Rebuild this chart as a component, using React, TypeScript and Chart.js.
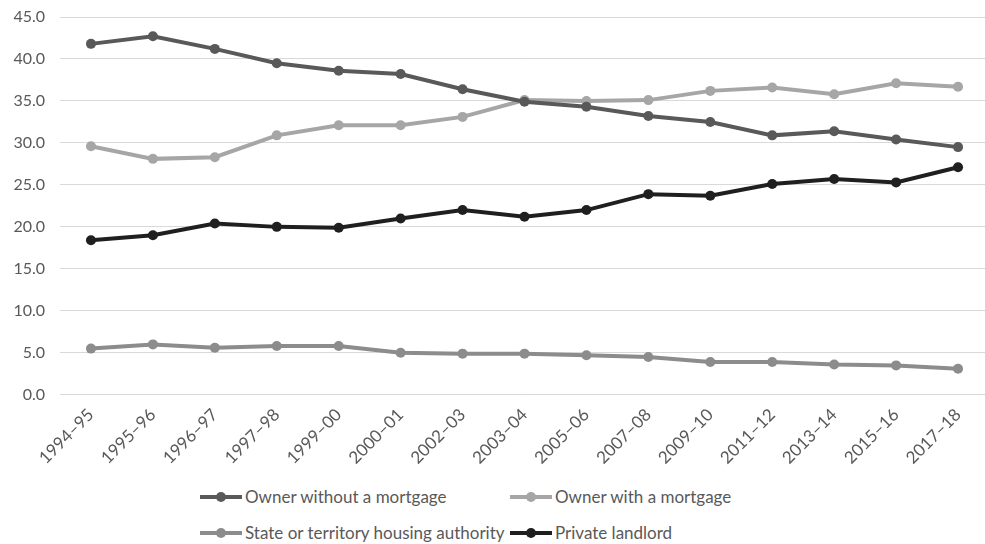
import React, { useEffect, useRef } from "react";
import { Chart, registerables } from "chart.js";

Chart.register(...registerables);

const categories = [
  "1994–95", "1995–96", "1996–97", "1997–98", "1999–00", "2000–01", "2002–03", "2003–04",
  "2005–06", "2007–08", "2009–10", "2011–12", "2013–14", "2015–16", "2017–18",
];
const ownerWithout = [41.8, 42.7, 41.2, 39.5, 38.6, 38.2, 36.4, 34.9, 34.3, 33.2, 32.5, 30.9, 31.4, 30.4, 29.5];
const ownerWith = [29.6, 28.1, 28.3, 30.9, 32.1, 32.1, 33.1, 35.1, 35.0, 35.1, 36.2, 36.6, 35.8, 37.1, 36.7];
const stateHousing = [5.5, 6.0, 5.6, 5.8, 5.8, 5.0, 4.9, 4.9, 4.7, 4.5, 3.9, 3.9, 3.6, 3.5, 3.1];
const privateLandlord = [18.4, 19.0, 20.4, 20.0, 19.9, 21.0, 22.0, 21.2, 22.0, 23.9, 23.7, 25.1, 25.7, 25.3, 27.1];
const yTicks = [0, 5, 10, 15, 20, 25, 30, 35, 40, 45];

const seriesNames = [
  "Owner without a mortgage",
  "Owner with a mortgage",
  "State or territory housing authority",
  "Private landlord",
];
const seriesColors = ["#595959", "#a6a6a6", "#8c8c8c", "#1f1f1f"];
const seriesValues = [ownerWithout, ownerWith, stateHousing, privateLandlord];

const FONT = "Lato, 'Open Sans', sans-serif";

function LegendItem({ name, color }: { name: string; color: string }) {
  return (
    <div style={{ display: "flex", alignItems: "center", whiteSpace: "nowrap" }}>
      <svg width={42} height={12} style={{ marginRight: 3 }}>
        <line x1={0} y1={6} x2={42} y2={6} stroke={color} strokeWidth={4} />
        <circle cx={21} cy={6} r={5} fill={color} />
      </svg>
      <span style={{ fontFamily: FONT, fontSize: 17, color: "#595959" }}>{name}</span>
    </div>
  );
}

export default function App() {
  const canvasRef = useRef<HTMLCanvasElement | null>(null);

  useEffect(() => {
    if (!canvasRef.current) return;
    const chart = new Chart(canvasRef.current, {
      type: "line",
      data: {
        labels: categories,
        datasets: seriesNames.map((name, i) => ({
          label: name,
          data: seriesValues[i],
          borderColor: seriesColors[i],
          backgroundColor: seriesColors[i],
          pointBackgroundColor: seriesColors[i],
          pointBorderColor: seriesColors[i],
          borderWidth: 4,
          pointRadius: 5,
          pointBorderWidth: 0,
          tension: 0,
          fill: false,
        })),
      },
      options: {
        responsive: false,
        animation: false,
        maintainAspectRatio: false,
        layout: { padding: { top: 17, right: 11, bottom: 0, left: 0 } },
        plugins: {
          legend: { display: false },
          tooltip: { enabled: false },
        },
        scales: {
          x: {
            offset: true,
            grid: { display: false },
            border: { display: false },
            ticks: {
              color: "#595959",
              font: { family: FONT, size: 17 },
              minRotation: 45,
              maxRotation: 45,
              autoSkip: false,
              padding: 2,
            },
          },
          y: {
            min: 0,
            max: 45,
            afterFit: (scale: any) => {
              scale.width = 60;
              scale.paddingTop = 0;
              scale.paddingBottom = 0;
            },
            afterBuildTicks: (scale: any) => {
              scale.ticks = yTicks.map((v) => ({ value: v }));
            },
            grid: { color: "#d9d9d9", lineWidth: 1, drawTicks: false },
            border: { display: false },
            ticks: {
              color: "#595959",
              font: { family: FONT, size: 16 },
              padding: 15,
              callback: (v: any) => Number(v).toFixed(1),
            },
          },
        },
      },
    });
    return () => chart.destroy();
  }, []);

  return (
    <div
      style={{
        position: "fixed",
        left: 0,
        top: 0,
        width: 985,
        height: 544,
        overflow: "hidden",
        background: "#ffffff",
      }}
    >
      <canvas ref={canvasRef} width={1000} height={470} style={{ width: 1000, height: 470, display: "block" }} />
      <div style={{ position: "absolute", left: 200, top: 486 }}>
        <LegendItem name={seriesNames[0]} color={seriesColors[0]} />
      </div>
      <div style={{ position: "absolute", left: 510, top: 486 }}>
        <LegendItem name={seriesNames[1]} color={seriesColors[1]} />
      </div>
      <div style={{ position: "absolute", left: 200, top: 522 }}>
        <LegendItem name={seriesNames[2]} color={seriesColors[2]} />
      </div>
      <div style={{ position: "absolute", left: 510, top: 522 }}>
        <LegendItem name={seriesNames[3]} color={seriesColors[3]} />
      </div>
    </div>
  );
}
